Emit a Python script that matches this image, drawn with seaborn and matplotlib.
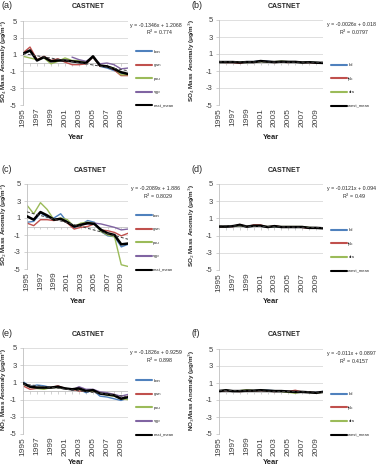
import numpy as np
import pandas as pd
import matplotlib
matplotlib.use('Agg')
import matplotlib.pyplot as plt
import seaborn as sns

# ---- data ----
years = list(range(1995, 2011))
tick_years = list(range(1995, 2010, 2))
nan = np.nan

east_sites = ['bon', 'gwn', 'psu', 'sgp', 'east_mean']
west_sites = ['tbl', 'fpk', 'dra', 'west_mean']

# (a) SO4, east
a_bon = [1.1, 1.4, 0.3, 0.7, 0.3, 0.3, 0.3, 0.2, 0.1, 0.0, 0.7, -0.4, -0.6, -0.9, -1.2, -1.4]
a_gwn = [1.2, 1.9, 0.4, 0.8, 0.3, 0.5, 0.1, -0.2, -0.2, -0.1, 0.7, -0.4, -0.4, -0.8, -1.5, -1.5]
a_psu = [0.8, 0.6, 0.4, 0.6, -0.1, 0.2, 0.6, 0.3, 0.3, 0.1, 0.7, -0.3, -0.4, -0.6, -1.4, -1.4]
a_sgp = [nan] * 7 + [0.7, 0.4, 0.2, 0.7, -0.1, 0.0, -0.2, -0.7, -0.6]
a_mean = [1.1, 1.5, 0.3, 0.7, 0.2, 0.3, 0.3, 0.2, 0.1, 0.0, 0.8, -0.3, -0.4, -0.7, -1.1, -1.3]

# (b) SO4, west
b_tbl = [0.05, 0.1, 0.05, 0.0, 0.1, 0.1, 0.2, 0.15, 0.05, 0.1, 0.1, 0.05, 0.0, 0.05, 0.0, -0.05]
b_fpk = [0.05, 0.0, 0.0, -0.1, 0.1, 0.0, 0.15, 0.1, 0.0, 0.05, 0.0, 0.1, 0.0, 0.0, -0.05, -0.05]
b_dra = [0.0, 0.05, 0.05, 0.05, 0.0, 0.05, 0.1, 0.05, 0.1, 0.15, 0.1, 0.05, 0.0, 0.05, 0.0, -0.05]
b_mean = [0.05, 0.05, 0.05, 0.0, 0.05, 0.05, 0.17, 0.1, 0.05, 0.1, 0.07, 0.07, 0.0, 0.03, -0.02, -0.05]

# (c) SO2, east
c_bon = [0.5, 0.6, 1.6, 1.1, 1.0, 1.5, 0.5, -0.1, 0.2, 0.7, 0.5, -0.6, -1.1, -1.2, -2.4, -2.1]
c_gwn = [0.4, 0.1, 0.8, 0.8, 0.7, 0.9, 0.4, -0.3, -0.1, 0.0, 0.3, -0.4, -0.5, -0.7, -1.1, -0.8]
c_psu = [2.5, 1.5, 2.8, 2.0, 0.8, 1.0, 0.8, 0.0, 0.4, 0.5, 0.4, -0.6, -1.0, -1.2, -4.5, -4.7]
c_sgp = [nan] * 7 + [0.0, 0.2, 0.3, 0.4, 0.3, 0.1, -0.1, -0.4, -0.3]
c_mean = [1.2, 0.8, 1.7, 1.3, 0.8, 0.9, 0.5, 0.0, 0.2, 0.4, 0.3, -0.4, -0.8, -1.0, -2.1, -2.0]

# (d) SO2, west
d_tbl = [0.05, 0.0, 0.1, 0.2, 0.0, 0.1, 0.1, 0.0, 0.05, 0.0, 0.0, -0.05, 0.0, -0.1, -0.1, -0.15]
d_fpk = [0.0, 0.05, 0.05, 0.3, 0.0, 0.25, 0.25, -0.05, 0.15, 0.0, 0.0, 0.0, -0.05, -0.15, -0.1, -0.1]
d_dra = [0.05, 0.05, 0.1, 0.15, 0.05, 0.1, 0.1, 0.05, 0.05, 0.05, 0.05, 0.05, 0.05, -0.05, -0.1, -0.15]
d_mean = [0.05, 0.05, 0.1, 0.25, 0.05, 0.15, 0.15, 0.0, 0.1, 0.0, 0.0, 0.0, 0.0, -0.1, -0.1, -0.15]

# (e) NO3, east
e_bon = [1.1, 0.5, 0.7, 0.6, 0.4, 0.5, 0.3, 0.2, 0.2, -0.2, 0.1, -0.6, -0.7, -0.9, -1.1, -0.8]
e_gwn = [0.6, 0.2, 0.3, 0.3, 0.4, 0.6, 0.3, 0.2, 0.0, 0.0, 0.0, -0.3, -0.4, -0.4, -0.9, -0.6]
e_psu = [0.8, 0.5, 0.3, 0.2, 0.4, 0.4, 0.3, 0.2, 0.2, 0.0, 0.0, -0.2, -0.5, -0.6, -0.9, -1.0]
e_sgp = [nan] * 7 + [0.1, 0.5, 0.2, 0.2, -0.1, -0.2, -0.4, -0.6, -0.4]
e_mean = [0.9, 0.5, 0.4, 0.4, 0.4, 0.5, 0.3, 0.2, 0.3, 0.0, 0.1, -0.3, -0.4, -0.5, -0.9, -0.7]

# (f) NO3, west
f_tbl = [0.05, 0.1, 0.05, 0.05, 0.05, 0.1, 0.15, 0.15, 0.1, 0.05, 0.0, -0.05, -0.05, -0.1, -0.1, 0.0]
f_fpk = [0.0, 0.1, 0.05, 0.0, 0.05, 0.05, 0.1, 0.05, 0.0, 0.05, 0.0, 0.15, -0.05, -0.05, -0.15, -0.05]
f_dra = [0.05, 0.15, 0.05, 0.1, 0.2, 0.1, 0.15, 0.1, 0.1, 0.0, -0.1, -0.2, -0.05, -0.1, -0.15, -0.1]
f_mean = [0.05, 0.15, 0.05, 0.05, 0.1, 0.1, 0.15, 0.1, 0.05, 0.05, 0.0, -0.05, -0.05, -0.1, -0.15, -0.05]

equations = ['y = -0.1346x + 1.2068', 'y = -0.0026x + 0.018', 'y = -0.2089x + 1.886',
             'y = -0.0121x + 0.094', 'y = -0.1826x + 0.9259', 'y = -0.011x + 0.0897']
r2_texts = ['R$^2$ = 0.774', 'R$^2$ = 0.0797', 'R$^2$ = 0.8029',
            'R$^2$ = 0.49', 'R$^2$ = 0.898', 'R$^2$ = 0.4157']
panel_labels = ['(a)', '(b)', '(c)', '(d)', '(e)', '(f)']
ylabels = ['SO$_4$ Mass Anomaly (\u03bcg/m$^3$)', 'SO$_4$ Mass Anomaly (\u03bcg/m$^3$)',
           'SO$_2$ Mass Anomaly (\u03bcg/m$^3$)', 'SO$_2$ Mass Anomaly (\u03bcg/m$^3$)',
           'NO$_3$ Mass Anomaly (\u03bcg/m$^3$)', 'NO$_3$Mass Anomaly (\u03bcg/m$^3$)']

series = [
    dict(zip(east_sites, [a_bon, a_gwn, a_psu, a_sgp, a_mean])),
    dict(zip(west_sites, [b_tbl, b_fpk, b_dra, b_mean])),
    dict(zip(east_sites, [c_bon, c_gwn, c_psu, c_sgp, c_mean])),
    dict(zip(west_sites, [d_tbl, d_fpk, d_dra, d_mean])),
    dict(zip(east_sites, [e_bon, e_gwn, e_psu, e_sgp, e_mean])),
    dict(zip(west_sites, [f_tbl, f_fpk, f_dra, f_mean])),
]

colors = {'bon': '#4F81BD', 'gwn': '#C0504D', 'psu': '#9BBB59', 'sgp': '#8064A2',
          'east_mean': 'black', 'tbl': '#4F81BD', 'fpk': '#C0504D', 'dra': '#9BBB59',
          'west_mean': 'black'}

# axes boxes in pixels (left, top, right, bottom)
W, H = 376, 466
boxes = [(23, 21, 128, 105), (219, 20, 323, 105),
         (27, 184, 128, 269), (219, 184, 323, 270),
         (23, 348, 128, 434), (219, 349, 323, 434)]
year_label_y = [138, 138, 302, 302, 463, 463]

sns.set_style('white')
plt.rcParams['font.family'] = ['Liberation Sans', 'DejaVu Sans']
plt.rcParams['mathtext.fontset'] = 'dejavusans'
plt.rcParams['axes.unicode_minus'] = False

fig = plt.figure(figsize=(W / 100, H / 100), dpi=100)

for i in range(6):
    l, t, r, b = boxes[i]
    ax = fig.add_axes([l / W, 1 - b / H, (r - l) / W, (b - t) / H])
    data = series[i]
    df = pd.DataFrame(data)
    df['year'] = years
    long = df.melt(id_vars='year', var_name='site', value_name='anom').dropna()

    ax.set_ylim(-5, 5)
    ax.set_xlim(1995, 2010)
    ax.set_yticks([-5, -3, -1, 1, 3, 5])
    ax.yaxis.grid(True, color='#d9d9d9', lw=0.6)
    ax.set_axisbelow(True)
    # category axis at zero with its little ticks
    ax.axhline(0, color='#bfbfbf', lw=0.6, zorder=1)
    ax.vlines(years, -0.35, 0, color='#bfbfbf', lw=0.5, zorder=1)

    for site in data:
        sub = long[long['site'] == site]
        is_mean = site.endswith('mean')
        sns.lineplot(data=sub, x='year', y='anom', color=colors[site],
                     lw=1.8 if is_mean else 1.0, label=site, ax=ax,
                     zorder=3 if is_mean else 2)

    mean_key = [k for k in data if k.endswith('mean')][0]
    sns.regplot(data=long[long['site'] == mean_key], x='year', y='anom', ax=ax,
                scatter=False, ci=None, truncate=True,
                line_kws=dict(color='#404040', lw=0.7, ls=(0, (3, 2)), zorder=4))

    ax.set_xticks(tick_years)
    ax.set_xticklabels([str(y) for y in tick_years], rotation=90)
    ax.tick_params(axis='x', length=0, labelsize=6, pad=2, labelcolor='#404040')
    ax.tick_params(axis='y', length=2, width=0.5, color='#bfbfbf', labelsize=5.5,
                   pad=2.5, labelcolor='#404040', left=True)
    for s in ['top', 'right', 'bottom']:
        ax.spines[s].set_visible(False)
    ax.spines['left'].set_color('#bfbfbf')
    ax.spines['left'].set_linewidth(0.6)

    ax.set_xlabel('Year', fontsize=5.5, fontweight='bold')
    ax.xaxis.set_label_coords(0.5, (b - year_label_y[i] + 4) / (b - t))
    ax.set_ylabel(ylabels[i], fontsize=4.5, fontweight='bold')
    lab_x = 9 if i % 2 == 0 else 197
    ax.yaxis.set_label_coords((lab_x - l) / (r - l), 0.52)

    leg = ax.legend(loc='lower left', bbox_to_anchor=(1.06, -0.06), frameon=False,
                    fontsize=3, handlelength=3.8, handletextpad=0.3, labelspacing=2.3,
                    borderpad=0)
    for line in leg.get_lines():
        line.set_linewidth(1.5)

    ax.text(1.27, 0.95, equations[i], transform=ax.transAxes, ha='center',
            va='center', fontsize=3.8)
    ax.text(1.30, 0.86, r2_texts[i], transform=ax.transAxes, ha='center',
            va='center', fontsize=3.8)

    # panel title and label
    cx = (l + r) / 2 + 13
    fig.text(cx / W, 1 - (t - 14) / H, 'CASTNET', ha='center', va='center',
             fontsize=5, fontweight='bold')
    lx = 1 if i % 2 == 0 else 192
    fig.text(lx / W, 1 - (t - 15) / H, panel_labels[i], ha='left', va='center',
             fontsize=6.5)

fig.savefig('out.png', dpi=100)
